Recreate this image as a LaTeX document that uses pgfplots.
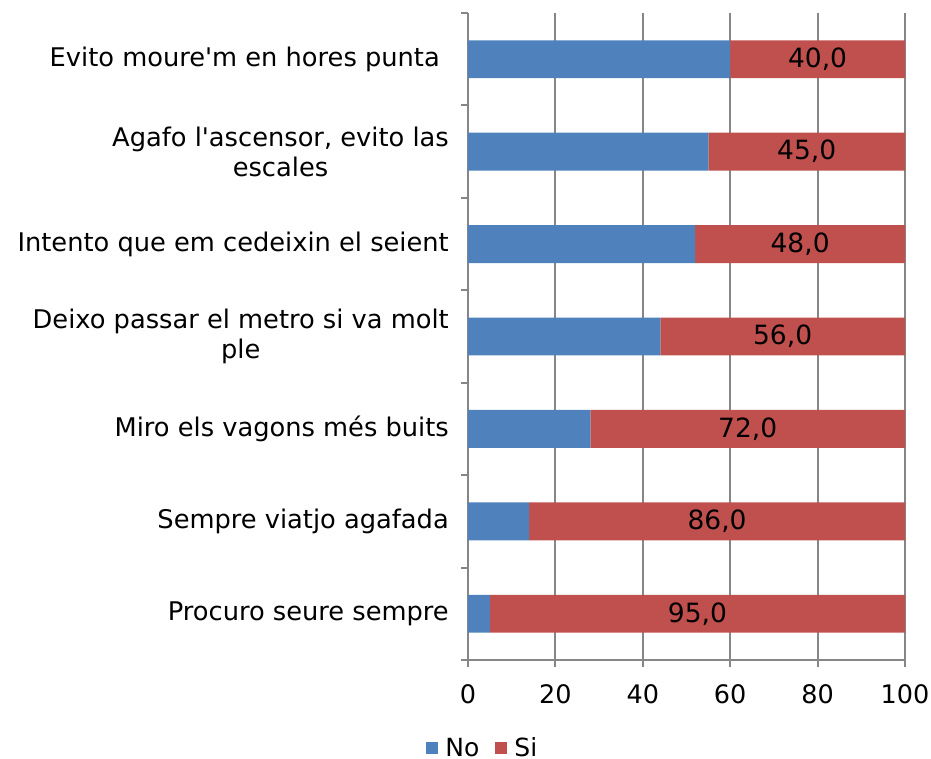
\documentclass[border=0pt]{standalone}
\usepackage{pgfplots}
\pgfplotsset{compat=1.18}
\usepackage{fontspec}
\setmainfont{DejaVu Sans}
\definecolor{noblue}{RGB}{79,129,189}
\definecolor{sired}{RGB}{192,80,77}
\definecolor{gridgray}{RGB}{134,134,134}
\newcommand{\catfont}{\fontsize{25.7}{30}\selectfont}
\newcommand{\numfont}{\fontsize{25.5}{27}\selectfont}
\newcommand{\barfont}{\fontsize{26.5}{28}\selectfont}

\begin{document}
\begin{tikzpicture}[x=1pt,y=1pt]
\useasboundingbox (-468,-98) rectangle (463,660);
\begin{axis}[
  at={(0,0)}, anchor=south west,
  scale only axis, width=437pt, height=647pt,
  xbar stacked, bar width=0.41,
  xmin=0, xmax=100, ymin=-0.5, ymax=6.5,
  axis lines*=left,
  axis line style={gridgray, line width=2pt},
  xtick={0,20,...,100},
  xmajorgrids, grid style={gridgray, line width=2pt},
  tick align=outside, major tick length=7pt,
  tick style={gridgray, line width=2pt},
  ytick={-0.5,0.5,...,6.5}, yticklabels={},
  extra y ticks={0,1,2,3,4,5,6},
  extra y tick style={major tick length=0pt},
  extra y tick labels={Procuro seure sempre, Sempre viatjo agafada, Miro els vagons més buits, {Deixo passar el metro si va molt\\ple}, Intento que em cedeixin el seient, {Agafo l\textquotesingle ascensor, evito las\\escales}, Evito moure\textquotesingle m en hores punta\hspace*{0.35em}},
  yticklabel style={font=\catfont, align=center, inner sep=0pt, xshift=-19pt},
  xticklabel style={font=\numfont, inner sep=0pt, yshift=-17pt},
  /pgf/number format/assume math mode=true,
  legend style={at={(0.034,-0.136)}, anchor=center, draw=none, fill=none,
    legend columns=2, font=\fontsize{25}{27}\selectfont,
    /tikz/every odd column/.append style={column sep=5pt},
    /tikz/every even column/.append style={column sep=14pt}},
  legend image code/.code={\fill[#1] (0pt,-6pt) rectangle (12pt,6pt);},
]
\addplot[fill=noblue, draw=none] coordinates {(5,0) (14,1) (28,2) (44,3) (52,4) (55,5) (60,6)};
\addlegendentry{No}
\addplot[fill=sired, draw=none] coordinates {(95,0) (86,1) (72,2) (56,3) (48,4) (45,5) (40,6)};
\addlegendentry{Si}
\end{axis}
\begin{axis}[
  at={(0,0)}, anchor=south west,
  scale only axis, width=437pt, height=647pt,
  xmin=0, xmax=100, ymin=-0.5, ymax=6.5,
  hide axis,
  /pgf/number format/assume math mode=true,
  nodes near coords={\pgfmathprintnumber[fixed, fixed zerofill, precision=1, use comma]{\pgfplotspointmeta}},
  every node near coord/.append style={anchor=center, font=\barfont, text=black},
]
\addplot[draw=none, mark=none, point meta=explicit] coordinates {
  (52.5,0) [95] (57,1) [86] (64,2) [72] (72,3) [56] (76,4) [48] (77.5,5) [45] (80,6) [40]
};
\end{axis}
\end{tikzpicture}
\end{document}
